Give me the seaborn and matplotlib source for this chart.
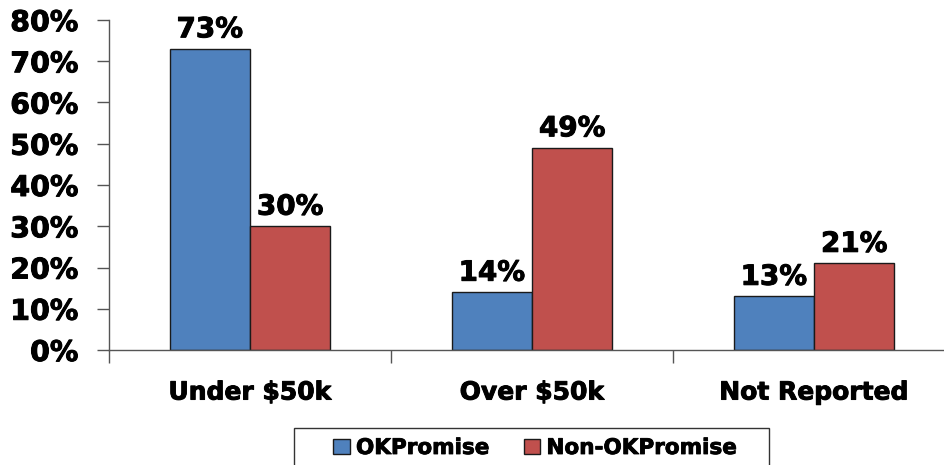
import matplotlib
matplotlib.use("Agg")
import matplotlib.pyplot as plt
import seaborn as sns
import pandas as pd
from matplotlib.patches import Patch, Rectangle
from matplotlib.ticker import PercentFormatter
import matplotlib.patheffects as pe

categories = ["Under $50k", "Over $50k", "Not Reported"]
series_names = ["OKPromise", "Non-OKPromise"]
okpromise = [0.73, 0.14, 0.13]
non_okpromise = [0.30, 0.49, 0.21]
colors = ["#4F81BD", "#C0504D"]

df = pd.DataFrame({
    "category": categories * 2,
    "group": [series_names[0]] * 3 + [series_names[1]] * 3,
    "value": okpromise + non_okpromise,
})

sns.set_theme(style="white")
plt.rcParams["font.family"] = ["DejaVu Sans"]
plt.rcParams["font.weight"] = "bold"
plt.rcParams["text.color"] = "black"

heavy = [pe.withStroke(linewidth=0.7, foreground="black")]

fig = plt.figure(figsize=(9.45, 4.65), dpi=100)
W, H = 945, 465
ax = fig.add_axes([109 / W, (H - 350) / H, 846 / W, 330 / H])

sns.barplot(data=df, x="category", y="value", hue="group", order=categories,
            hue_order=series_names, palette=colors, width=0.57, gap=0,
            edgecolor="#1a1a1a", linewidth=1.0, saturation=1, ax=ax, legend=False)

for cont in ax.containers:
    labels = ax.bar_label(cont, labels=[f"{v*100:.0f}%" for v in cont.datavalues],
                          padding=4, fontsize=20, fontweight="bold", color="black")
    for t in labels:
        t.set_path_effects(heavy)

ax.set_ylim(0, 0.8)
ax.set_xlim(-0.5, 2.5)
ax.yaxis.set_major_formatter(PercentFormatter(1.0, decimals=0))
ax.set_yticks([i / 10 for i in range(9)])
ax.set_xlabel("")
ax.set_ylabel("")
for s in ["top", "right"]:
    ax.spines[s].set_visible(False)
for s in ["left", "bottom"]:
    ax.spines[s].set_color("#555555")
    ax.spines[s].set_linewidth(1.0)

ax.tick_params(axis="y", which="major", direction="out", length=9, width=1,
               color="#555555", labelsize=20.5, pad=13, left=True)
ax.tick_params(axis="x", which="major", length=0, labelsize=18, pad=22)
for t in ax.get_yticklabels() + ax.get_xticklabels():
    t.set_fontweight("bold")
    t.set_color("black")
    t.set_path_effects(heavy)

# category separator ticks
ax.set_xticks([-0.5, 0.5, 1.5, 2.5], minor=True)
ax.tick_params(axis="x", which="minor", direction="out", length=9, width=1,
               color="#555555", bottom=True)

# legend frame (box runs off the bottom of the figure)
fig.patches.append(Rectangle((294 / W, -0.05), (769 - 294) / W, 0.05 + (H - 428) / H,
                             transform=fig.transFigure, facecolor="white",
                             edgecolor="#333333", linewidth=1.0, zorder=1))

handles = [Patch(facecolor=c, edgecolor="#1a1a1a", linewidth=1.0) for c in colors]
leg = fig.legend(handles, series_names, loc="center",
                 bbox_to_anchor=(535 / W, 1 - 448 / H), ncol=2, frameon=False,
                 handlelength=0.75, handleheight=0.75, handletextpad=0.3,
                 columnspacing=1.6, borderpad=0.2, borderaxespad=0,
                 prop={"weight": "bold", "size": 15.5})
leg.set_zorder(2)
for t in leg.get_texts():
    t.set_color("black")
    t.set_path_effects([pe.withStroke(linewidth=0.6, foreground="black")])

fig.savefig("out.png", dpi=100)
